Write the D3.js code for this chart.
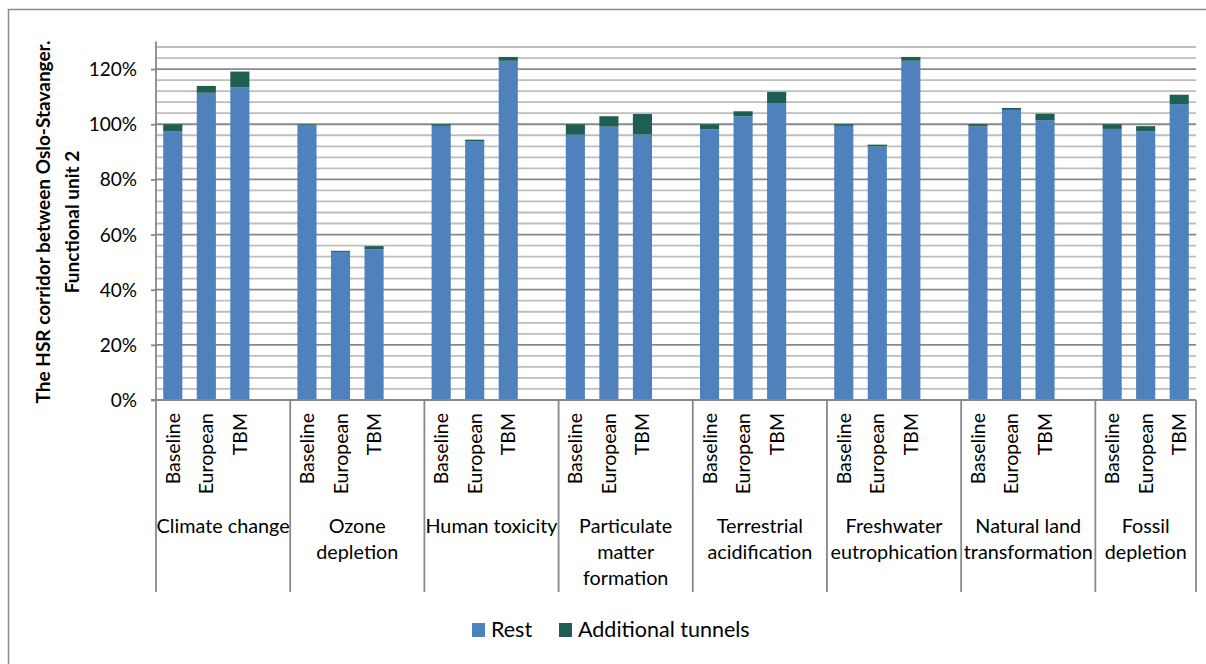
<!DOCTYPE html>
<html>
<head>
<meta charset="utf-8">
<script src="https://cdn.jsdelivr.net/npm/d3@7"></script>
<style>
  html, body { margin: 0; padding: 0; background: #fff; }
  svg { display: block; }
  text { font-family: Lato, "Open Sans", sans-serif; fill: #000; }
</style>
</head>
<body>
<svg id="chart" width="1206" height="664"></svg>
<script>
// ---- data ----
const groups = [
  ["Climate change"],
  ["Ozone", "depletion"],
  ["Human toxicity"],
  ["Particulate", "matter", "formation"],
  ["Terrestrial", "acidification"],
  ["Freshwater", "eutrophication"],
  ["Natural land", "transformation"],
  ["Fossil", "depletion"]
];
const scenarios = ["Baseline", "European", "TBM"];
const seriesNames = ["Rest", "Additional tunnels"];
// values in %, order: groups x scenarios
const restValues = [
  97.5, 111.4, 113.3,
  99.8, 53.7, 54.7,
  99.4, 93.7, 123.0,
  96.2, 99.1, 96.3,
  98.1, 102.9, 107.7,
  99.4, 92.0, 123.0,
  99.2, 105.2, 101.5,
  98.3, 97.5, 107.3
];
const tunnelValues = [
  2.5, 2.5, 5.8,
  0.2, 0.4, 1.1,
  0.6, 0.7, 1.4,
  3.8, 3.8, 7.4,
  1.9, 1.8, 4.0,
  0.6, 0.6, 1.4,
  0.8, 0.7, 2.3,
  1.7, 1.8, 3.4
];
const yTicks = [0, 20, 40, 60, 80, 100, 120];
const yMinorStep = 4;
const yMax = 130;
const yTitle = ["The HSR corridor between Oslo-Stavanger.", "Functional unit 2"];
const colors = ["#4F81BD", "#1F5F53"];

// ---- layout ----
const svg = d3.select("#chart");
const plotLeft = 156, plotRight = 1196, plotTop = 41.5, plotBottom = 400;
const axisBottom = 592;

// slots: 3 bars + 1 blank per group (no blank after last group)
const slots = [];
groups.forEach((g, gi) => {
  scenarios.forEach((s, si) => slots.push({ key: gi + "-" + si, g: gi, s: si }));
  if (gi < groups.length - 1) slots.push({ key: "gap" + gi, gap: true, g: gi });
});

const x = d3.scaleBand()
  .domain(slots.map(d => d.key))
  .range([plotLeft, plotRight])
  .paddingInner(0.43)
  .paddingOuter(0.215);
const step = x.step();

const y = d3.scaleLinear().domain([0, yMax]).range([plotBottom, plotTop]);

// frame
svg.append("rect")
  .attr("x", 8.5).attr("y", 9.5).attr("width", 1220).attr("height", 700)
  .attr("fill", "none").attr("stroke", "#8a8a8a").attr("stroke-width", 1.5);

// minor gridlines
const minor = d3.range(yMinorStep, yMax + 0.01, yMinorStep).filter(v => v % 20 !== 0);
svg.append("g").selectAll("line").data(minor).join("line")
  .attr("x1", plotLeft).attr("x2", plotRight)
  .attr("y1", d => y(d)).attr("y2", d => y(d))
  .attr("stroke", "#bdbdbd").attr("stroke-width", 1.8);

// major gridlines
svg.append("g").selectAll("line").data(yTicks.filter(v => v > 0)).join("line")
  .attr("x1", plotLeft).attr("x2", plotRight)
  .attr("y1", d => y(d)).attr("y2", d => y(d))
  .attr("stroke", "#888888").attr("stroke-width", 1.8);

// bars
const data = [];
groups.forEach((g, gi) => scenarios.forEach((s, si) => {
  const i = gi * scenarios.length + si;
  data.push({ key: gi + "-" + si, rest: restValues[i], tunnel: tunnelValues[i] });
}));
const stack = d3.stack().keys(["rest", "tunnel"]);
const stacked = stack(data);
svg.append("g").selectAll("g").data(stacked).join("g")
  .attr("fill", (d, i) => colors[i])
  .selectAll("rect").data(d => d).join("rect")
  .attr("x", d => x(d.data.key))
  .attr("width", x.bandwidth())
  .attr("y", d => y(d[1]))
  .attr("height", d => y(d[0]) - y(d[1]));

// x axis line
svg.append("line")
  .attr("x1", plotLeft - 5).attr("x2", plotRight)
  .attr("y1", plotBottom).attr("y2", plotBottom)
  .attr("stroke", "#888888").attr("stroke-width", 1.8);

// y axis
const yAxis = d3.axisLeft(y).tickValues(yTicks).tickSize(5).tickFormat(d => d + "%");
const yg = svg.append("g").attr("transform", `translate(${plotLeft},0)`).call(yAxis);
yg.select(".domain").remove();
yg.selectAll(".tick line").attr("stroke", "#888888").attr("stroke-width", 1.8);
yg.selectAll(".tick text").attr("x", -19).attr("dy", "0.34em")
  .style("font-size", "19px").style("font-family", "Lato, sans-serif").attr("fill", "#000");
svg.append("line")
  .attr("x1", plotLeft).attr("x2", plotLeft)
  .attr("y1", plotTop).attr("y2", axisBottom)
  .attr("stroke", "#888888").attr("stroke-width", 1.8);

// group separators
const bounds = groups.map((g, gi) => plotLeft + gi * 4 * step).concat([plotRight]);
svg.append("g").selectAll("line").data(bounds.slice(1)).join("line")
  .attr("x1", d => d).attr("x2", d => d)
  .attr("y1", plotBottom).attr("y2", axisBottom)
  .attr("stroke", "#888888").attr("stroke-width", 1.8);

// scenario labels (rotated)
svg.append("g").selectAll("text").data(data).join("text")
  .attr("transform", d => `translate(${x(d.key) + x.bandwidth() / 2 + 7},413) rotate(-90)`)
  .attr("text-anchor", "end")
  .style("font-size", "19.5px")
  .text(d => scenarios[+d.key.split("-")[1]]);

// group labels
const gl = svg.append("g").selectAll("text").data(groups).join("text")
  .attr("x", (d, gi) => (bounds[gi] + bounds[gi + 1]) / 2)
  .attr("y", 533)
  .attr("text-anchor", "middle")
  .style("font-size", "19.8px");
gl.selectAll("tspan").data(d => d).join("tspan")
  .attr("x", function () { return d3.select(this.parentNode).attr("x"); })
  .attr("dy", (d, i) => i === 0 ? 0 : 26)
  .text(d => d);

// y title
svg.append("text")
  .attr("transform", "translate(50,222) rotate(-90)")
  .attr("text-anchor", "middle")
  .style("font-size", "19px").style("font-weight", "bold")
  .selectAll("tspan").data(yTitle).join("tspan")
  .attr("x", 0).attr("dy", (d, i) => i === 0 ? 0 : 29)
  .text(d => d);

// legend
const legend = svg.append("g").attr("transform", "translate(472,623)");
const legX = [0, 87];
seriesNames.forEach((n, i) => {
  const g = legend.append("g").attr("transform", `translate(${legX[i]},0)`);
  g.append("rect").attr("width", 13).attr("height", 14).attr("fill", colors[i]);
  g.append("text").attr("x", 19).attr("y", 14).style("font-size", "21.5px").text(n);
});
</script>
</body>
</html>
